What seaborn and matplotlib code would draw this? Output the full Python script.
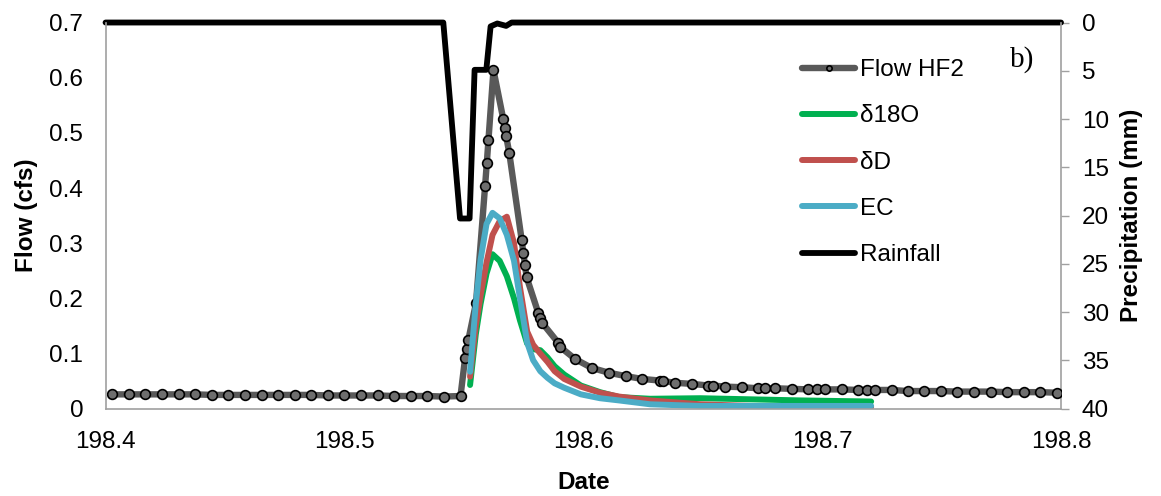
import matplotlib
matplotlib.use("Agg")
import matplotlib.pyplot as plt
import seaborn as sns
import numpy as np

# ---------------- data ----------------
flow_date = [198.4028, 198.4097, 198.4167, 198.4236, 198.4306, 198.4375, 198.4444, 198.4514,
             198.4583, 198.4653, 198.4722, 198.4792, 198.4861, 198.4931, 198.5000, 198.5069,
             198.5139, 198.5208, 198.5278, 198.5347, 198.5417, 198.5486,
             198.5505, 198.5512, 198.5519, 198.5551, 198.5589, 198.5596, 198.5603, 198.5624,
             198.5665, 198.5672, 198.5677, 198.5690, 198.5742, 198.5749, 198.5756, 198.5763,
             198.5812, 198.5819, 198.5829, 198.5896, 198.5903, 198.5966, 198.6035, 198.6109,
             198.6179, 198.6245, 198.6321, 198.6335, 198.6384, 198.6454, 198.6524, 198.6545,
             198.6593, 198.6663, 198.6733, 198.6761, 198.6803, 198.6873, 198.6942, 198.6977,
             198.7012, 198.7082, 198.7151, 198.7187, 198.7222, 198.7291, 198.7358, 198.7426,
             198.7496, 198.7566, 198.7636, 198.7706, 198.7774, 198.7844, 198.7913, 198.7985]
flow_cfs = [0.026, 0.026, 0.026, 0.026, 0.026, 0.026, 0.025, 0.025,
            0.025, 0.025, 0.025, 0.025, 0.025, 0.024, 0.024, 0.024,
            0.024, 0.023, 0.023, 0.023, 0.022, 0.023,
            0.091, 0.108, 0.125, 0.192, 0.404, 0.445, 0.487, 0.614,
            0.525, 0.508, 0.494, 0.464, 0.306, 0.283, 0.260, 0.238,
            0.173, 0.164, 0.155, 0.119, 0.112, 0.090, 0.074, 0.065,
            0.059, 0.054, 0.051, 0.050, 0.047, 0.045, 0.042, 0.042,
            0.040, 0.039, 0.037, 0.037, 0.037, 0.036, 0.035, 0.035,
            0.035, 0.035, 0.034, 0.034, 0.034, 0.034, 0.032, 0.032,
            0.032, 0.031, 0.031, 0.031, 0.030, 0.030, 0.030, 0.029]

tracer_date = [198.5526, 198.5550, 198.5570, 198.5595, 198.5620, 198.5650, 198.5680, 198.5710,
               198.5735, 198.5765, 198.5790, 198.5820, 198.5850, 198.5880, 198.5920, 198.5990,
               198.6070, 198.6150, 198.6280, 198.6490, 198.6700, 198.6910, 198.7205]
d18o = [0.043, 0.135, 0.190, 0.245, 0.280, 0.268, 0.240, 0.200,
        0.160, 0.118, 0.108, 0.106, 0.093, 0.077, 0.062, 0.042,
        0.030, 0.021, 0.018, 0.019, 0.017, 0.015, 0.013]
dD = [0.058, 0.150, 0.205, 0.265, 0.315, 0.340, 0.348, 0.300,
      0.220, 0.140, 0.116, 0.100, 0.085, 0.068, 0.054, 0.040,
      0.029, 0.022, 0.015, 0.008, 0.005, 0.004, 0.003]
ec = [0.067, 0.190, 0.270, 0.335, 0.355, 0.345, 0.315, 0.268,
      0.200, 0.120, 0.088, 0.068, 0.056, 0.046, 0.038, 0.026,
      0.019, 0.015, 0.008, 0.005, 0.005, 0.005, 0.005]

rain_date = [198.4000, 198.5414, 198.5484, 198.5524, 198.5545, 198.5594, 198.5612,
             198.5640, 198.5677, 198.5700, 198.8000]
rain_mm = [0.0, 0.0, 20.3, 20.3, 4.9, 4.9, 0.4, 0.1, 0.35, 0.0, 0.0]

x_ticks = [198.4, 198.5, 198.6, 198.7, 198.8]
x_ticklabels = ["198.4", "198.5", "198.6", "198.7", "198.8"]
flow_ticks = [0, 0.1, 0.2, 0.3, 0.4, 0.5, 0.6, 0.7]
flow_ticklabels = ["0", "0.1", "0.2", "0.3", "0.4", "0.5", "0.6", "0.7"]
rain_ticks = [0, 5, 10, 15, 20, 25, 30, 35, 40]
rain_ticklabels = ["0", "5", "10", "15", "20", "25", "30", "35", "40"]

# ---------------- style ----------------
sns.set_style("white")
plt.rcParams["font.family"] = ["Liberation Sans", "DejaVu Sans"]
plt.rcParams["text.color"] = "black"
plt.rcParams["axes.labelcolor"] = "black"
plt.rcParams["xtick.color"] = "black"
plt.rcParams["ytick.color"] = "black"

FS = 17.5
SPINE = "#a0a0a0"

fig = plt.figure(figsize=(11.61, 4.96), dpi=100)
ax1 = fig.add_axes([0.0909, 0.176, 0.823, 0.7786])
ax2 = ax1.twinx()

# rainfall (right axis, inverted)
sns.lineplot(x=rain_date, y=rain_mm, ax=ax2, color="black", lw=4.2,
             estimator=None, sort=False, legend=False)
rain_line = ax2.lines[-1]
rain_line.set_label("Rainfall")
rain_line.set_clip_on(False)
rain_line.set_solid_joinstyle("round")

# flow
sns.lineplot(x=flow_date, y=flow_cfs, ax=ax1, color="#595959", lw=4.6,
             marker="o", markersize=7, markerfacecolor="#6e6e6e",
             markeredgecolor="black", markeredgewidth=1.2,
             estimator=None, sort=False, legend=False)
flow_line = ax1.lines[-1]
flow_line.set_label("Flow HF2")

tracers = [(d18o, "#00B050", "δ18O"), (dD, "#C0504D", "δD"), (ec, "#4BACC6", "EC")]
tracer_lines = []
for vals, col, lab in tracers:
    sns.lineplot(x=tracer_date, y=vals, ax=ax1, color=col, lw=4.3,
                 estimator=None, sort=False, legend=False)
    ln = ax1.lines[-1]
    ln.set_label(lab)
    ln.set_solid_capstyle("round")
    ln.set_solid_joinstyle("round")
    tracer_lines.append(ln)

ax1.set_zorder(ax2.get_zorder() + 1)
ax1.patch.set_visible(False)

# axes limits and ticks
ax1.set_xlim(198.4, 198.8)
ax1.set_ylim(0, 0.7)
ax2.set_ylim(40, 0)
ax1.set_xticks(x_ticks, x_ticklabels)
ax1.set_yticks(flow_ticks, flow_ticklabels)
ax2.set_yticks(rain_ticks, rain_ticklabels)

ax1.tick_params(axis="x", length=0, pad=16, labelsize=FS, labelcolor="black")
ax1.tick_params(axis="y", length=0, pad=16, labelsize=FS, labelcolor="black")
ax2.tick_params(axis="y", length=6, width=1, color=SPINE, direction="out", pad=9,
                labelsize=FS, labelcolor="black")

for s in ["top", "right"]:
    ax1.spines[s].set_visible(False)
for s in ["left", "bottom"]:
    ax1.spines[s].set_color(SPINE)
    ax1.spines[s].set_linewidth(1.2)
for s in ["top", "left", "bottom"]:
    ax2.spines[s].set_visible(False)
ax2.spines["right"].set_color(SPINE)
ax2.spines["right"].set_linewidth(1.2)

ax1.set_xlabel("Date", fontsize=FS, fontweight="bold", labelpad=13, color="black")
ax1.set_ylabel("Flow (cfs)", fontsize=FS, fontweight="bold", labelpad=8, color="black")
ax2.set_ylabel("Precipitation (mm)", fontsize=FS, fontweight="bold", labelpad=8, color="black")

# legend
handles = [flow_line] + tracer_lines + [rain_line]
labels = [h.get_label() for h in handles]
leg = ax1.legend(handles, labels, loc="upper left",
                 bbox_to_anchor=(802 / 1161, 1 - 59 / 496), bbox_transform=fig.transFigure,
                 frameon=False, fontsize=FS, handlelength=2.2, handletextpad=0.2,
                 labelspacing=1.0, borderpad=0, borderaxespad=0)
for t in leg.get_texts():
    t.set_color("black")
for ln in leg.get_lines():
    ln.set_markersize(3.8)

fig.text(1022 / 1161, 1 - 60 / 496, "b)", fontsize=21, ha="center", va="center",
         family=["Liberation Serif", "DejaVu Serif"], color="black")

fig.savefig("out.png", dpi=100)
